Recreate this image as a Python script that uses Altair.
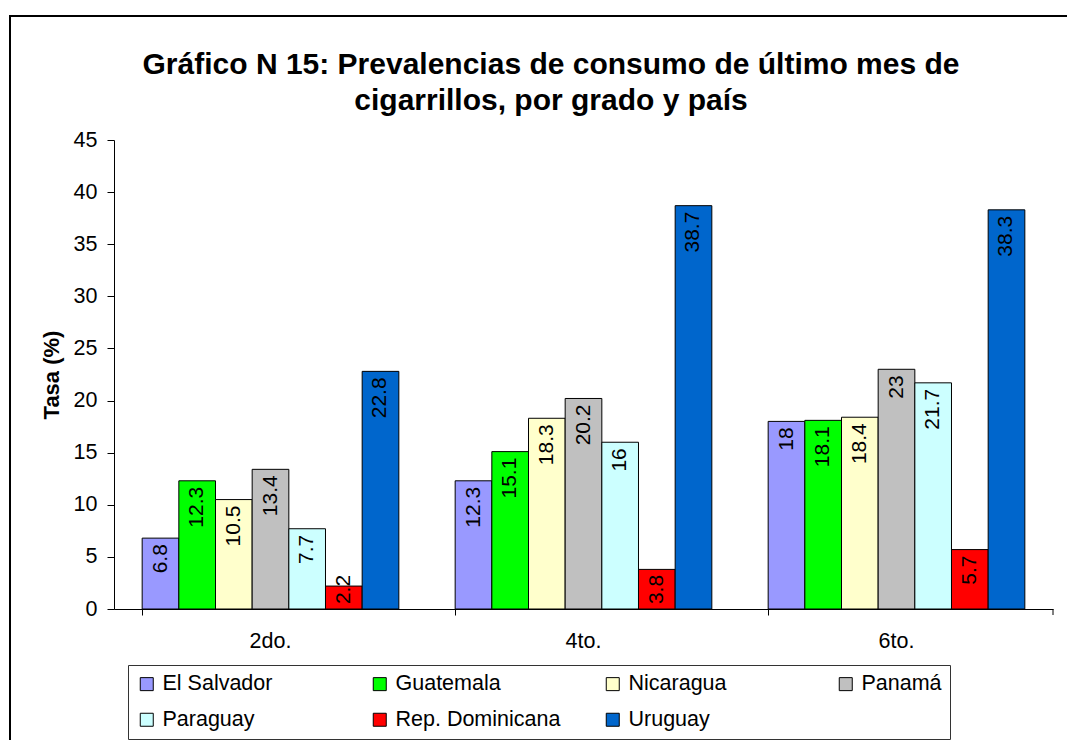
import altair as alt
import pandas as pd

grades = ["2do.", "4to.", "6to."]
countries = ["El Salvador", "Guatemala", "Nicaragua", "Panamá", "Paraguay",
             "Rep. Dominicana", "Uruguay"]
colors = ["#9999FF", "#00FF00", "#FFFFCC", "#C0C0C0", "#CCFFFF", "#FF0000", "#0066CC"]
vals_2do = [6.8, 12.3, 10.5, 13.4, 7.7, 2.2, 22.8]
vals_4to = [12.3, 15.1, 18.3, 20.2, 16, 3.8, 38.7]
vals_6to = [18, 18.1, 18.4, 23, 21.7, 5.7, 38.3]
y_ticks = [0, 5, 10, 15, 20, 25, 30, 35, 40, 45]
title_text = "Gráfico N 15: Prevalencias de consumo de último mes de\ncigarrillos, por grado y país"
y_title = "Tasa (%)"

rows = []
for g, vals in zip(grades, [vals_2do, vals_4to, vals_6to]):
    for c, v in zip(countries, vals):
        rows.append({"grado": g, "pais": c, "tasa": v})
df = pd.DataFrame(rows)

W, H = 939, 469
FONT = "Liberation Sans"

xscale = alt.Scale(domain=grades, paddingInner=0.18, paddingOuter=0.09)
xoff = alt.Scale(domain=countries, paddingInner=0, paddingOuter=0)
yscale = alt.Scale(domain=[0, 45], nice=False, zero=True)

y_axis = alt.Axis(values=y_ticks, title=y_title, titleFont=FONT,
                  titleFontSize=22, titleFontWeight="bold", titleColor="black",
                  titlePadding=10, labelFont=FONT, labelFontSize=21.5,
                  labelColor="black", labelPadding=10, tickSize=7,
                  tickColor="black", domainColor="black", grid=False)

base = alt.Chart(df)

bars = base.mark_bar(stroke="black", strokeWidth=1).encode(
    x=alt.X("grado:N", scale=xscale, sort=grades,
            axis=alt.Axis(title=None, orient="bottom", labelAngle=0, ticks=False,
                          tickSize=0, domain=True, domainColor="black", grid=False,
                          labelFont=FONT, labelFontSize=21.5, labelColor="black",
                          labelPadding=21)),
    xOffset=alt.XOffset("pais:N", scale=xoff),
    y=alt.Y("tasa:Q", scale=yscale, axis=y_axis),
    color=alt.Color("pais:N", scale=alt.Scale(domain=countries, range=colors),
                    legend=alt.Legend(title=None, orient="none", legendX=14, legendY=525,
                                      direction="horizontal", columns=4,
                                      gridAlign="all", columnPadding=41,
                                      rowPadding=13, padding=8, strokeColor="#333333",
                                      fillColor="white", symbolType="square",
                                      symbolSize=169, symbolStrokeColor="black",
                                      symbolStrokeWidth=1, symbolOpacity=1,
                                      labelFont=FONT, labelFontSize=21.5,
                                      labelColor="black", labelOffset=5,
                                      labelLimit=300)),
)

labels = base.transform_calculate(
    ylab="max(datum.tasa, 3.85)"
).mark_text(angle=270, align="right", baseline="middle", dx=-6, font=FONT,
            fontSize=21, color="black").encode(
    x=alt.X("grado:N", scale=xscale, sort=grades,
            axis=alt.Axis(title=None, orient="bottom", labels=False, domain=False,
                          ticks=True, tickSize=6, tickColor="black", bandPosition=0,
                          grid=False)),
    xOffset=alt.XOffset("pais:N", scale=xoff),
    y=alt.Y("ylab:Q", scale=yscale, title=y_title, axis=y_axis),
    text=alt.Text("tasa:Q"),
)

one = pd.DataFrame({"k": [0]})
frame_left = alt.Chart(one).mark_rule(color="black", strokeWidth=2).encode(
    x=alt.value(-104), y=alt.value(-124), y2=alt.value(600))
frame_top = alt.Chart(one).mark_rule(color="black", strokeWidth=2).encode(
    x=alt.value(-105), x2=alt.value(953), y=alt.value(-124))
end_tick = alt.Chart(one).mark_rule(color="black", strokeWidth=1).encode(
    x=alt.value(W), y=alt.value(H), y2=alt.value(H + 6))
title = alt.Chart(one).mark_text(
    font=FONT, fontSize=30, fontWeight="bold", color="black", align="center",
    baseline="alphabetic", lineBreak="\n", lineHeight=36
).encode(x=alt.value(437), y=alt.value(-66), text=alt.value(title_text))

chart = alt.layer(bars, labels, end_tick, frame_left, frame_top, title).resolve_axis(
    x="independent"
).properties(
    width=W, height=H,
    padding={"left": 0, "top": 7, "right": 0, "bottom": 0},
).configure_view(stroke=None)

chart.save("out.html", embed_options={"renderer": "svg", "actions": False})
